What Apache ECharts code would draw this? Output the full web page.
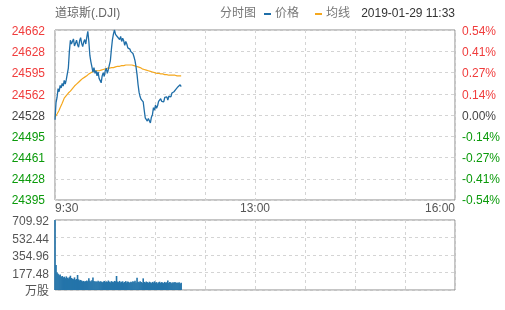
<!DOCTYPE html>
<html>
<head>
<meta charset="utf-8">
<script src="https://cdn.jsdelivr.net/npm/echarts@6/dist/echarts.min.js"></script>
<style>html,body{margin:0;padding:0;background:#fff}#c{width:505px;height:310px}</style>
</head>
<body>
<div id="c"></div>
<script>
// minute-by-minute values from 9:30 (index 0)
var price = [24521,24548,24556,24570,24565,24575,24571,24578,24574,24583,
24577,24584,24586,24602,24628,24646,24640,24644,24648,24637,
24641,24646,24639,24635,24645,24650,24641,24636,24643,24647,
24640,24651,24660,24644,24622,24612,24604,24596,24603,24594,
24598,24590,24596,24586,24584,24579,24590,24595,24589,24598,
24602,24594,24600,24597,24614,24632,24647,24656,24662,24655,
24658,24651,24654,24647,24652,24644,24649,24645,24638,24644,
24640,24634,24637,24632,24628,24631,24625,24620,24614,24604,
24592,24576,24564,24557,24553,24556,24549,24536,24524,24527,
24519,24523,24521,24516,24525,24529,24540,24536,24544,24539,
24543,24550,24547,24554,24550,24553,24549,24556,24553,24557,
24552,24558,24561,24557,24563,24560,24565,24562,24569,24566,
24573,24570,24576,24573];
var avgPrice = [24525,24527,24530,24533,24536,24540,24543,24547,24551,24555,
24557,24559,24561,24563,24564,24566,24568,24570,24572,24574,
24576,24577,24579,24580,24582,24583,24584,24586,24587,24588,
24589,24590,24591,24593,24594,24595,24596,24597,24598,24598,
24598,24598,24598,24598,24599,24599,24600,24600,24601,24601,
24601,24602,24602,24602,24602,24603,24603,24603,24604,24604,
24604,24605,24605,24605,24606,24606,24606,24606,24607,24607,
24607,24607,24607,24607,24607,24607,24606,24606,24606,24605,
24605,24604,24603,24603,24602,24601,24600,24600,24599,24599,
24598,24598,24597,24597,24596,24596,24595,24595,24594,24594,
24594,24594,24593,24593,24593,24593,24592,24592,24592,24592,
24592,24591,24591,24591,24591,24591,24591,24591,24590,24590,
24590,24590,24590,24590];
var volume = [709.92,253,178,165,150,158,135,142,128,135,
120,138,125,118,130,145,122,115,110,128,
105,112,152,108,98,102,95,88,92,85,
90,96,88,118,95,86,100,128,92,84,
88,80,95,82,90,86,78,84,92,80,
88,82,96,85,78,90,84,80,92,88,
142,86,80,92,78,84,88,74,82,90,
76,86,80,72,84,78,88,82,95,76,
125,84,78,88,80,74,118,82,76,86,
80,72,84,78,70,82,76,88,74,80,
68,78,84,72,80,76,70,82,74,78,
96,72,80,76,68,78,74,82,70,76,
72,78,66,74];
// tick labels, bottom to top
var priceTicks = ['24395','24428','24461','24495','24528','24562','24595','24628','24662'];
var pctTicks = ['-0.54%','-0.41%','-0.27%','-0.14%','0.00%','0.14%','0.27%','0.41%','0.54%'];
var volTicks = ['万股','177.48','354.96','532.44','709.92'];
var timeTicks = {0:'9:30',195:'13:00',390:'16:00'};

var FONT = '"Liberation Sans", Arial, "Noto Sans CJK SC", sans-serif';
var chart = echarts.init(document.getElementById('c'), null, {renderer:'canvas'});
function styleKey(i){ return i>4 ? 'r' : (i<4 ? 'g' : 'k'); }
var rich = {
  r:{color:'#f03c3c',fontSize:12,fontFamily:FONT,padding:[3,0,0,0]},
  g:{color:'#0a9a0a',fontSize:12,fontFamily:FONT,padding:[2,0,0,0]},
  k:{color:'#444',fontSize:12,fontFamily:FONT,padding:[3,0,0,0]}
};
var volRich = {v:{color:'#555',fontSize:12,fontFamily:FONT,padding:[4,0,0,0]}};
var dash = {color:'#d4d4d4',type:[3,3],width:1};
chart.setOption({
  animation:false,
  textStyle:{fontFamily:FONT},
  grid:[
    {left:55,top:30,width:400,height:170,show:true,borderColor:'#8a8a8a',borderWidth:1,backgroundColor:'transparent'},
    {left:55,top:220,width:400,height:70,show:true,borderColor:'#8a8a8a',borderWidth:1,backgroundColor:'transparent'}
  ],
  graphic:[
    {type:'text',left:55,top:8,style:{text:'道琼斯(.DJI)',fill:'#666',font:'12px '+FONT}},
    {type:'text',left:220,top:8,style:{text:'分时图',fill:'#777',font:'12px '+FONT}},
    {type:'text',right:50,top:8,style:{text:'2019-01-29 11:33',fill:'#333',font:'12px '+FONT}}
  ],
  legend:{data:['价格','均线'],left:264,top:8,icon:'rect',itemWidth:7,itemHeight:2,itemGap:16,padding:0,
    textStyle:{fontSize:12,color:'#777',fontFamily:FONT,padding:[0,0,0,-1]}},
  xAxis:[
    {type:'value',gridIndex:0,min:0,max:390,interval:48.75,
      axisLine:{show:false},axisTick:{show:false},
      axisLabel:{show:true,margin:3,color:'#555',fontSize:12,fontFamily:FONT,
        alignMinLabel:'left',alignMaxLabel:'right',showMinLabel:true,showMaxLabel:true,
        formatter:function(v){return timeTicks[Math.round(v)]||'';}},
      splitLine:{show:true,lineStyle:dash}},
    {type:'value',gridIndex:1,min:0,max:390,interval:48.75,
      axisLine:{show:false},axisTick:{show:false},axisLabel:{show:false},
      splitLine:{show:true,lineStyle:dash}}
  ],
  yAxis:[
    {type:'value',gridIndex:0,min:24395,max:24662,show:false,splitLine:{show:false}},
    {type:'value',gridIndex:0,position:'left',min:0,max:8,interval:1,
      axisLine:{show:false},axisTick:{show:false},
      axisLabel:{margin:10,formatter:function(v){var i=Math.round(v);return '{'+styleKey(i)+'|'+priceTicks[i]+'}';},rich:rich},
      splitLine:{show:true,lineStyle:dash}},
    {type:'value',gridIndex:0,position:'right',min:0,max:8,interval:1,
      axisLine:{show:false},axisTick:{show:false},
      axisLabel:{margin:7,formatter:function(v){var i=Math.round(v);return '{'+styleKey(i)+'|'+pctTicks[i]+'}';},rich:rich},
      splitLine:{show:false}},
    {type:'value',gridIndex:1,min:0,max:709.92,interval:177.48,
      axisLine:{show:false},axisTick:{show:false},
      axisLabel:{margin:6,rich:volRich,
        formatter:function(v){return '{v|'+volTicks[Math.round(v/177.48)]+'}';}},
      splitLine:{show:true,lineStyle:dash}}
  ],
  series:[
    {name:'价格',type:'line',xAxisIndex:0,yAxisIndex:0,showSymbol:false,symbol:'none',
      data:price.map(function(v,i){return [i,v];}),
      itemStyle:{color:'#1f6ea8'},lineStyle:{color:'#1f6ea8',width:1.3},z:3},
    {name:'均线',type:'line',xAxisIndex:0,yAxisIndex:0,showSymbol:false,symbol:'none',
      data:avgPrice.map(function(v,i){return [i,v];}),
      itemStyle:{color:'#f5a81e'},lineStyle:{color:'#f5a81e',width:1.2},z:2},
    {name:'成交量',type:'bar',xAxisIndex:1,yAxisIndex:3,barWidth:1.6,
      data:volume.map(function(v,i){return [i,v];}),
      itemStyle:{color:'#2474aa'}}
  ]
});
</script>
</body>
</html>
